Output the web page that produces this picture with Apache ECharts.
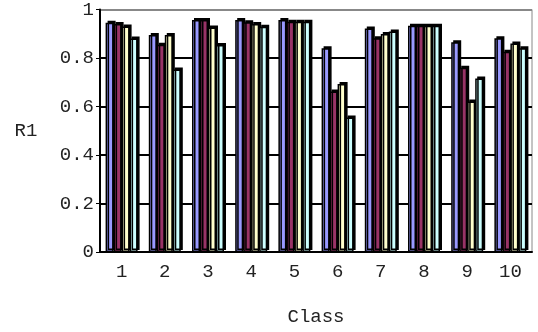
<!DOCTYPE html>
<html>
<head>
<meta charset="utf-8">
<script src="https://cdn.jsdelivr.net/npm/echarts@6/dist/echarts.min.js"></script>
<style>
  html, body { margin: 0; padding: 0; background: #fff; }
  #main { width: 538px; height: 332px; }
</style>
</head>
<body>
<div id="main"></div>
<script>
var classes = ['1', '2', '3', '4', '5', '6', '7', '8', '9', '10'];
var s1 = [0.945, 0.895, 0.957, 0.957, 0.957, 0.840, 0.922, 0.933, 0.865, 0.881];
var s2 = [0.940, 0.855, 0.957, 0.947, 0.950, 0.662, 0.881, 0.933, 0.760, 0.826];
var s3 = [0.930, 0.895, 0.926, 0.940, 0.950, 0.693, 0.899, 0.933, 0.621, 0.860];
var s4 = [0.880, 0.753, 0.854, 0.929, 0.950, 0.555, 0.909, 0.933, 0.715, 0.840];
var yTicks = [0, 0.2, 0.4, 0.6, 0.8, 1];

var chart = echarts.init(document.getElementById('main'));
var font = '"Liberation Mono", monospace';

function barSeries(name, data, color) {
  return {
    name: name,
    type: 'bar',
    data: data,
    barWidth: 8,
    barGap: '0%',
    itemStyle: {
      color: color,
      borderColor: '#000',
      borderWidth: 1.5,
      shadowColor: '#000',
      shadowBlur: 0,
      shadowOffsetX: 2,
      shadowOffsetY: -2
    },
    emphasis: { disabled: true }
  };
}

var option = {
  animation: false,
  grid: {
    left: 100,
    right: 6,
    top: 9,
    bottom: 80,
    show: true,
    borderColor: '#888',
    borderWidth: 1
  },
  xAxis: {
    type: 'category',
    data: classes,
    name: 'Class',
    nameLocation: 'middle',
    nameGap: 65,
    nameTextStyle: { fontFamily: font, fontSize: 19, color: '#222', verticalAlign: 'middle' },
    axisLine: { lineStyle: { color: '#000', width: 2 } },
    axisTick: { inside: true, length: 4, lineStyle: { color: '#000', width: 2 } },
    axisLabel: { fontFamily: font, fontSize: 19, color: '#222', margin: 10 }
  },
  yAxis: {
    type: 'value',
    min: 0,
    max: 1,
    interval: 0.2,
    name: 'R1',
    nameLocation: 'middle',
    nameRotate: 0,
    nameGap: 74,
    nameTextStyle: { fontFamily: font, fontSize: 19, color: '#222', align: 'center' },
    axisLine: { show: true, lineStyle: { color: '#000', width: 2 } },
    axisTick: { show: true, length: 4, lineStyle: { color: '#000' } },
    axisLabel: {
      fontFamily: font, fontSize: 19, color: '#222', margin: 6,
      formatter: function (v) {
        for (var i = 0; i < yTicks.length; i++) {
          if (Math.abs(yTicks[i] - v) < 1e-9) return String(yTicks[i]);
        }
        return '';
      }
    },
    splitLine: { lineStyle: { color: ['#000', '#000', '#000', '#000', '#000', '#888'], width: 2 } }
  },
  series: [
    barSeries('s1', s1, '#9999FF'),
    barSeries('s2', s2, '#993366'),
    barSeries('s3', s3, '#FFFFCC'),
    barSeries('s4', s4, '#CCFFFF')
  ]
};
chart.setOption(option);
</script>
</body>
</html>
